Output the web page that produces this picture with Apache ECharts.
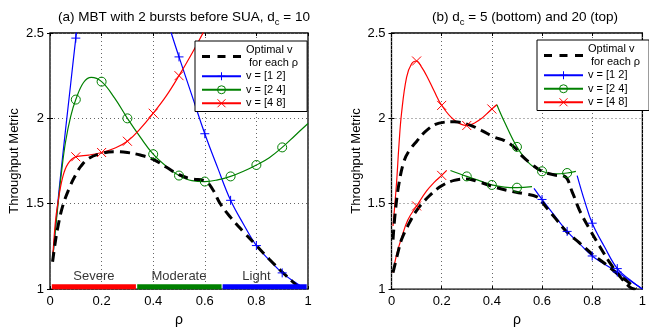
<!DOCTYPE html>
<html>
<head>
<meta charset="utf-8">
<script src="https://cdn.jsdelivr.net/npm/echarts@6/dist/echarts.min.js"></script>
<style>
  html, body { margin: 0; padding: 0; background: #fff; }
  #chart { width: 649px; height: 332px; }
</style>
</head>
<body>
<div id="chart"></div>
<script>
// ---- (a) d_c = 10 ----
const rhoOptA = [0.01, 0.02, 0.03, 0.05, 0.08, 0.1, 0.12, 0.15, 0.2, 0.25, 0.3, 0.35, 0.4, 0.45, 0.5, 0.55, 0.6, 0.63, 0.66, 0.7, 0.75, 0.8, 0.85, 0.9, 0.95, 0.97]
const optA = [1.16, 1.27, 1.36, 1.49, 1.61, 1.67, 1.72, 1.765, 1.795, 1.805, 1.8, 1.785, 1.76, 1.715, 1.67, 1.645, 1.635, 1.585, 1.5, 1.42, 1.335, 1.255, 1.175, 1.1, 1.03, 1.0]

const rhoBlueA1 = [0.01, 0.02, 0.03, 0.04, 0.06, 0.08, 0.1, 0.12]
const blueA1 = [1.17, 1.34, 1.5, 1.65, 1.93, 2.2, 2.47, 2.72]
const rhoBlueA2 = [0.44, 0.47, 0.5, 0.55, 0.6, 0.65, 0.7, 0.75, 0.8, 0.85, 0.9, 0.95, 0.99]
const blueA2 = [2.65, 2.5, 2.36, 2.135, 1.91, 1.71, 1.52, 1.38, 1.255, 1.17, 1.095, 1.04, 1.0]

const rhoGreenA = [0.01, 0.02, 0.03, 0.045, 0.06, 0.08, 0.1, 0.13, 0.16, 0.2, 0.25, 0.3, 0.35, 0.4, 0.45, 0.5, 0.55, 0.6, 0.65, 0.7, 0.75, 0.8, 0.85, 0.9, 0.95, 1.0]
const greenA = [1.17, 1.33, 1.48, 1.69, 1.86, 2.01, 2.11, 2.21, 2.24, 2.215, 2.12, 2.0, 1.89, 1.79, 1.72, 1.665, 1.635, 1.63, 1.64, 1.66, 1.69, 1.727, 1.77, 1.83, 1.9, 1.97]

const rhoRedA = [0.01, 0.02, 0.03, 0.05, 0.07, 0.1, 0.15, 0.2, 0.25, 0.3, 0.35, 0.4, 0.45, 0.5, 0.55, 0.6]
const redA = [1.17, 1.38, 1.5, 1.66, 1.735, 1.775, 1.785, 1.8, 1.825, 1.866, 1.94, 2.03, 2.13, 2.25, 2.38, 2.52]

// severity bands along the bottom of (a)
const severityNames = ['Severe', 'Moderate', 'Light']
const severityColors = ['#ff0000', '#008000', '#0000ff']
const severityStart = [0.007, 0.338, 0.669]
const severityEnd = [0.333, 0.665, 0.995]
const severityLabelX = [0.17, 0.5, 0.8]
const severityLabelY = 1.075
const severityBandY = 1.014

// ---- (b) d_c = 20 (top) ----
const rhoOptTop = [0.006, 0.015, 0.03, 0.05, 0.07, 0.1, 0.14, 0.19, 0.25, 0.31, 0.36, 0.41, 0.45, 0.49, 0.52, 0.56, 0.6, 0.65, 0.69, 0.72, 0.75, 0.79, 0.83, 0.87, 0.91, 0.95, 0.97]
const optTop = [1.29, 1.45, 1.62, 1.75, 1.81, 1.865, 1.93, 1.972, 1.98, 1.962, 1.928, 1.89, 1.87, 1.83, 1.78, 1.73, 1.69, 1.668, 1.66, 1.57, 1.46, 1.35, 1.25, 1.155, 1.075, 1.012, 1.0]
const rhoRedTop = [0.006, 0.02, 0.03, 0.04, 0.06, 0.08, 0.1, 0.12, 0.14, 0.17, 0.2, 0.25, 0.3, 0.35, 0.4, 0.42]
const redTop = [1.37, 1.62, 1.85, 2.03, 2.24, 2.32, 2.336, 2.3, 2.25, 2.16, 2.076, 1.99, 1.958, 1.99, 2.055, 2.08]
const rhoGreenTop = [0.42, 0.45, 0.5, 0.55, 0.6, 0.65, 0.7, 0.735]
const greenTop = [2.08, 1.98, 1.833, 1.735, 1.69, 1.675, 1.68, 1.69]
const rhoBlueTop = [0.74, 0.77, 0.8, 0.85, 0.9, 0.95, 1.0]
const blueTop = [1.665, 1.515, 1.386, 1.245, 1.12, 1.055, 1.0]

// ---- (b) d_c = 5 (bottom) ----
const rhoOptBot = [0.006, 0.025, 0.04, 0.065, 0.1, 0.15, 0.2, 0.25, 0.3, 0.35, 0.41, 0.48, 0.53, 0.58, 0.6, 0.625, 0.65, 0.7, 0.75, 0.8, 0.85, 0.9, 0.94, 0.975]
const optBot = [1.097, 1.21, 1.29, 1.37, 1.46, 1.545, 1.605, 1.637, 1.645, 1.627, 1.598, 1.572, 1.558, 1.54, 1.51, 1.464, 1.42, 1.333, 1.27, 1.205, 1.15, 1.09, 1.045, 1.0]
const rhoRedBot = [0.006, 0.02, 0.04, 0.065, 0.1, 0.14, 0.17, 0.2, 0.22]
const redBot = [1.097, 1.2, 1.3, 1.405, 1.487, 1.575, 1.625, 1.666, 1.695]
const rhoGreenBot = [0.235, 0.3, 0.35, 0.4, 0.45, 0.5, 0.56]
const greenBot = [1.695, 1.66, 1.635, 1.61, 1.597, 1.594, 1.6]
const rhoBlueBot = [0.568, 0.6, 0.65, 0.7, 0.75, 0.8, 0.85, 0.9, 0.95, 1.0]
const blueBot = [1.59, 1.525, 1.43, 1.338, 1.265, 1.194, 1.145, 1.1, 1.05, 1.0]

const xTicks = { min: 0, max: 1, interval: 0.2 }
const yTicks = { min: 1, max: 2.5, interval: 0.5 }

const OPT = 'Optimal v\n for each ρ'
const V12 = 'v = [1 2]'
const V24 = 'v = [2 4]'
const V48 = 'v = [4 8]'

const FONT = '"Liberation Sans", Arial, Helvetica, sans-serif'
const BLUE = '#0000ff', GREEN = '#008000', RED = '#ff0000'

// marker glyphs (matlab '+', 'o', 'x')
const MARK = {
  [V12]: 'path://M5,0V10M0,5H10',
  [V24]: 'path://M0,5A5,5,0,1,1,10,5A5,5,0,1,1,0,5Z',
  [V48]: 'path://M0,0L10,10M10,0L0,10',
}
const COLOR = { [V12]: BLUE, [V24]: GREEN, [V48]: RED }

// markers sit on rho = 0.1 ... 0.9
const isMark = (x) => {
  const k = Math.round(x * 10)
  return Math.abs(x * 10 - k) < 1e-6 && k >= 1 && k <= 9
}

function curve(name, xs, ys, g) {
  return {
    type: 'line', name, xAxisIndex: g, yAxisIndex: g,
    data: xs.map((x, i) => (isMark(x) ? [x, ys[i]] : { value: [x, ys[i]], symbol: 'none' })),
    smooth: 0.4,
    symbol: MARK[name],
    symbolSize: 9,
    lineStyle: { color: COLOR[name], width: 1.2 },
    itemStyle: { color: 'rgba(0,0,0,0)', borderColor: COLOR[name], borderWidth: 1 },
    silent: true,
  }
}

function optimal(xs, ys, g) {
  return {
    type: 'line', name: OPT, xAxisIndex: g, yAxisIndex: g,
    data: xs.map((x, i) => [x, ys[i]]),
    smooth: 0.4,
    symbol: 'none',
    lineStyle: { color: '#000', width: 3, type: [10, 6] },
    itemStyle: { color: '#000' },
    silent: true, z: 3,
  }
}

function xAxisFor(g, top) {
  return {
    type: 'value', gridIndex: g, position: top ? 'top' : 'bottom', ...xTicks,
    axisLine: { show: false },
    axisTick: { show: true, inside: true, length: 3, lineStyle: { color: '#000' } },
    axisLabel: { show: !top, color: '#000', fontSize: 13, margin: 6, fontFamily: FONT },
    splitLine: { show: !top, lineStyle: { color: '#666', type: [1, 3], width: 1 } },
    name: top ? '' : 'ρ', nameLocation: 'middle', nameGap: 20,
    nameTextStyle: { color: '#000', fontSize: 14, fontFamily: FONT },
  }
}

function yAxisFor(g, right) {
  return {
    type: 'value', gridIndex: g, position: right ? 'right' : 'left', ...yTicks,
    axisLine: { show: false },
    axisTick: { show: true, inside: true, length: 3, lineStyle: { color: '#000' } },
    axisLabel: { show: !right, color: '#000', fontSize: 13, margin: 6, fontFamily: FONT },
    splitLine: { show: !right, lineStyle: { color: '#666', type: [1, 3], width: 1 } },
    name: right ? '' : 'Throughput Metric', nameLocation: 'middle', nameGap: 29,
    nameTextStyle: { color: '#000', fontSize: 13, fontFamily: FONT },
  }
}

function legendAt(left, top) {
  return {
    left, top, orient: 'vertical',
    data: [
      { name: OPT, icon: 'path://M0,0h8v3h-8zM15.5,0h8v3h-8zM31,0h8v3h-8z', itemStyle: { color: '#000', borderWidth: 0 } },
      V12, V24, V48,
    ],
    itemWidth: 39, itemHeight: 10, itemGap: 1,
    padding: [3, 9, 2, 6],
    borderColor: '#000', borderWidth: 1, backgroundColor: '#fff',
    textStyle: { fontSize: 11, lineHeight: 12.5, color: '#000', fontFamily: FONT },
    itemStyle: { borderWidth: 1 },
    selectedMode: false,
  }
}

const titleStyle = {
  fontSize: 13.5, fontWeight: 'normal', color: '#000', fontFamily: FONT,
  rich: { sub: { fontSize: 9.5, padding: [9, 0, 0, 0], fontFamily: FONT, color: '#000' } },
}

const series = [
  curve(V12, rhoBlueA1, blueA1, 0),
  curve(V12, rhoBlueA2, blueA2, 0),
  curve(V24, rhoGreenA, greenA, 0),
  curve(V48, rhoRedA, redA, 0),
  optimal(rhoOptA, optA, 0),

  curve(V48, rhoRedTop, redTop, 1),
  curve(V24, rhoGreenTop, greenTop, 1),
  curve(V12, rhoBlueTop, blueTop, 1),
  curve(V48, rhoRedBot, redBot, 1),
  curve(V24, rhoGreenBot, greenBot, 1),
  curve(V12, rhoBlueBot, blueBot, 1),
  optimal(rhoOptTop, optTop, 1),
  optimal(rhoOptBot, optBot, 1),
]

severityNames.forEach((name, i) => {
  series.push({
    type: 'line', xAxisIndex: 0, yAxisIndex: 0, symbol: 'none', silent: true,
    data: [[severityStart[i], severityBandY], [severityEnd[i], severityBandY]],
    lineStyle: { color: severityColors[i], width: 5, cap: 'butt' },
  })
})
series.push({
  type: 'scatter', xAxisIndex: 0, yAxisIndex: 0, symbolSize: 0, silent: true,
  data: severityNames.map((n, i) => [severityLabelX[i], severityLabelY, n]),
  label: { show: true, position: 'inside', formatter: (p) => p.data[2], color: '#000', fontSize: 13, fontFamily: FONT },
  z: 5,
})

const chart = echarts.init(document.getElementById('chart'), null, { renderer: 'canvas' })
chart.setOption({
  animation: false,
  backgroundColor: '#fff',
  textStyle: { fontFamily: FONT },
  title: [
    { text: '(a) MBT with 2 bursts before SUA, d{sub|c} = 10', left: 179, top: 3, textAlign: 'center', textStyle: titleStyle },
    { text: '(b) d{sub|c} = 5 (bottom) and 20 (top)', left: 520, top: 3, textAlign: 'center', textStyle: titleStyle },
  ],
  legend: [legendAt(195, 41), legendAt(537, 40)],
  grid: [
    { left: 50, top: 33, width: 258, height: 260, show: true, borderColor: '#000', borderWidth: 1.3, backgroundColor: 'transparent' },
    { left: 391.5, top: 33, width: 258.5, height: 260, show: true, borderColor: '#000', borderWidth: 1.3, backgroundColor: 'transparent' },
  ],
  xAxis: [xAxisFor(0, false), xAxisFor(1, false), xAxisFor(0, true), xAxisFor(1, true)],
  yAxis: [yAxisFor(0, false), yAxisFor(1, false), yAxisFor(0, true), yAxisFor(1, true)],
  tooltip: { show: false },
  series,
})
</script>
</body>
</html>
